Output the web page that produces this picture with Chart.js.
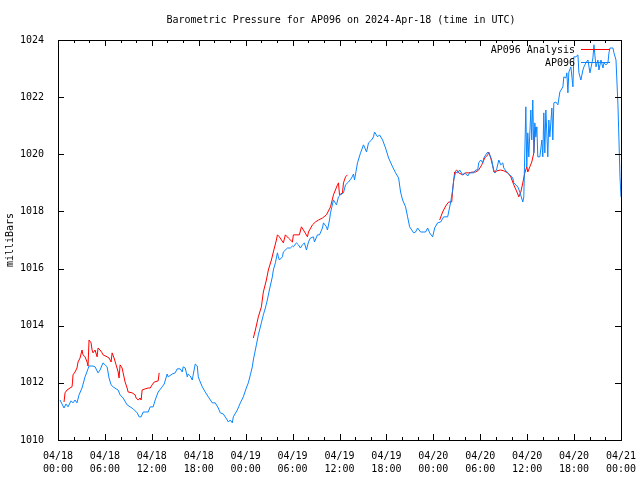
<!DOCTYPE html>
<html>
<head>
<meta charset="utf-8">
<script src="https://cdn.jsdelivr.net/npm/chart.js@4"></script>
<style>
html,body{margin:0;padding:0;background:#fff;}
canvas{display:block;}
</style>
</head>
<body>
<canvas id="c" width="640" height="480"></canvas>
<script>
// Hours since 2024-04-18 00:00 UTC
const blueTimes = [0.26,0.77,1.02,1.28,1.67,1.92,2.18,2.43,2.69,3.07,3.46,3.84,3.97,4.48,4.74,5.12,5.38,5.76,6.02,6.28,6.53,6.79,7.05,7.43,7.69,7.94,8.33,8.84,9.22,9.61,10.12,10.38,10.63,10.89,11.53,11.79,12.17,12.43,12.81,13.32,13.58,13.96,14.09,14.60,14.99,15.24,15.63,15.89,16.01,16.27,16.53,16.65,16.91,17.17,17.29,17.55,17.81,17.94,18.19,18.45,18.83,19.22,19.73,20.11,20.50,20.75,21.14,21.65,21.78,22.03,22.29,22.42,22.93,23.32,23.70,24.08,24.34,24.60,24.85,24.98,25.37,25.62,26.01,26.26,26.52,26.77,27.03,27.41,27.54,27.80,28.06,28.18,28.31,28.70,28.82,29.34,29.72,29.98,30.10,30.49,30.75,31.00,31.26,31.51,31.77,32.03,32.28,32.67,32.80,33.18,33.44,33.82,33.95,34.33,34.46,34.72,34.85,35.23,35.61,35.87,36.13,36.51,36.77,37.15,37.54,37.79,37.92,38.30,38.69,39.07,39.46,39.71,40.10,40.35,40.48,40.87,41.12,41.51,41.89,42.28,42.79,43.17,43.56,43.81,44.07,44.45,44.71,44.97,45.48,45.73,45.99,46.37,47.01,47.27,47.53,47.91,48.17,48.55,48.94,49.32,49.83,49.96,50.22,50.47,50.60,50.86,51.11,51.37,51.76,52.01,52.40,52.65,53.17,53.42,53.68,53.80,54.06,54.32,54.45,54.70,54.96,55.22,55.47,55.73,55.86,56.11,56.37,56.62,56.88,57.01,57.39,57.78,58.16,58.29,58.80,59.06,59.44,59.57,59.83,59.95,60.08,60.21,60.47,60.59,60.72,60.85,60.98,61.11,61.24,61.36,61.62,61.88,62.00,62.13,62.26,62.39,62.64,62.77,62.90,63.16,63.28,63.41,63.67,63.93,64.18,64.57,64.69,64.95,65.08,65.21,65.33,65.59,65.85,65.97,66.23,66.49,66.62,66.87,67.13,67.26,67.51,67.77,68.03,68.41,68.54,68.80,69.05,69.18,69.44,69.69,69.82,70.07,70.33,70.46,70.59,70.97,71.10,71.36,71.61,71.74,71.87,72.00];
const blueValues = [1011.40,1011.12,1011.26,1011.16,1011.37,1011.30,1011.40,1011.30,1011.58,1011.82,1012.21,1012.49,1012.59,1012.59,1012.56,1012.35,1012.45,1012.70,1012.63,1012.56,1012.17,1011.93,1011.86,1011.79,1011.75,1011.58,1011.47,1011.23,1011.16,1011.09,1010.95,1010.81,1010.81,1010.98,1010.98,1011.16,1011.16,1011.40,1011.68,1011.86,1011.96,1012.31,1012.21,1012.31,1012.35,1012.49,1012.49,1012.38,1012.56,1012.52,1012.21,1012.31,1012.24,1012.10,1012.28,1012.66,1012.59,1012.21,1012.03,1011.86,1011.68,1011.51,1011.30,1011.30,1011.12,1010.95,1010.91,1010.70,1010.63,1010.70,1010.60,1010.81,1011.05,1011.30,1011.51,1011.82,1012.00,1012.28,1012.56,1012.80,1013.33,1013.68,1014.10,1014.38,1014.62,1014.90,1015.25,1015.71,1015.95,1016.20,1016.55,1016.41,1016.30,1016.41,1016.58,1016.72,1016.72,1016.79,1016.76,1016.90,1016.83,1016.72,1016.83,1016.90,1016.65,1016.93,1017.07,1017.11,1016.93,1017.18,1017.18,1017.42,1017.60,1017.46,1017.35,1017.70,1017.95,1018.40,1018.23,1018.51,1018.58,1018.65,1018.93,1019.03,1019.17,1019.31,1019.10,1019.70,1020.05,1020.33,1020.08,1020.40,1020.50,1020.61,1020.78,1020.61,1020.68,1020.50,1020.22,1019.87,1019.56,1019.35,1019.17,1018.68,1018.40,1018.16,1017.81,1017.46,1017.25,1017.28,1017.42,1017.28,1017.28,1017.42,1017.25,1017.11,1017.42,1017.60,1017.63,1017.81,1017.81,1017.98,1018.33,1018.75,1019.10,1019.38,1019.35,1019.45,1019.28,1019.35,1019.24,1019.35,1019.35,1019.45,1019.45,1019.70,1019.80,1019.70,1019.87,1019.98,1020.08,1019.98,1019.80,1019.38,1019.35,1019.49,1019.80,1019.63,1019.70,1019.52,1019.38,1019.28,1019.17,1019.00,1018.86,1018.68,1018.33,1018.51,1021.66,1019.56,1020.75,1019.91,1021.55,1020.50,1021.90,1020.05,1021.10,1020.61,1020.96,1019.91,1019.91,1020.50,1019.91,1021.45,1020.05,1021.55,1019.91,1021.20,1020.61,1021.62,1020.50,1021.80,1021.83,1021.73,1022.18,1022.36,1022.71,1022.67,1022.85,1022.15,1022.88,1023.06,1022.36,1023.41,1023.41,1023.48,1022.85,1022.60,1022.95,1023.06,1023.20,1023.30,1022.85,1023.37,1023.83,1023.06,1023.30,1022.95,1023.30,1023.02,1023.20,1023.13,1023.20,1023.55,1023.72,1023.72,1023.55,1023.30,1021.73,1020.50,1019.21,1018.51];

const redTimes = [0.77,0.90,1.15,1.54,1.79,1.85,1.92,2.18,2.43,2.56,2.82,3.07,3.20,3.46,3.72,3.84,3.97,4.23,4.36,4.48,4.74,5.00,5.12,5.38,5.64,5.76,6.28,6.53,6.79,6.92,7.17,7.43,7.69,7.81,7.94,8.20,8.33,8.58,8.84,8.97,9.48,9.86,9.99,10.25,10.50,10.63,10.76,11.15,11.53,11.79,12.04,12.30,12.81,12.94,
  18.00,
  24.98,25.24,25.62,26.01,26.26,26.65,26.90,27.29,27.54,27.93,28.06,28.31,28.82,29.08,29.46,29.98,30.10,30.87,31.13,31.39,31.90,32.03,32.54,32.92,33.31,33.82,34.33,34.85,35.23,35.74,35.87,36.00,36.38,36.51,36.77,37.02,
  43.00,
  48.81,49.19,49.58,49.96,50.35,50.47,50.73,50.99,51.24,51.76,52.14,52.52,53.04,53.42,53.80,54.19,54.57,54.96,55.09,55.34,55.73,55.86,56.11,56.62,57.01,57.52,57.91,58.29,58.80,58.93,59.19,59.44,59.70,59.95,60.08,60.34,60.59,60.85,60.98,61.11];
const redValues = [1011.33,1011.65,1011.75,1011.82,1011.86,1012.00,1012.28,1012.38,1012.52,1012.73,1012.87,1013.15,1012.98,1012.91,1012.73,1012.59,1013.50,1013.40,1013.15,1013.05,1013.15,1012.91,1013.22,1013.15,1013.05,1012.98,1012.91,1012.87,1012.73,1013.05,1012.87,1012.63,1012.38,1012.17,1012.63,1012.52,1012.35,1012.03,1011.82,1011.68,1011.65,1011.58,1011.47,1011.40,1011.47,1011.40,1011.75,1011.79,1011.82,1011.82,1011.93,1012.03,1012.07,1012.35,
  null,
  1013.57,1013.85,1014.31,1014.66,1015.18,1015.60,1015.95,1016.30,1016.58,1017.00,1017.18,1017.11,1016.90,1017.18,1017.07,1016.93,1017.18,1017.18,1017.46,1017.35,1017.11,1017.28,1017.53,1017.63,1017.70,1017.77,1017.88,1018.16,1018.58,1018.93,1019.00,1018.58,1018.65,1019.00,1019.21,1019.28,
  null,
  1017.70,1017.98,1018.19,1018.33,1018.33,1018.75,1019.38,1019.45,1019.35,1019.28,1019.35,1019.35,1019.38,1019.38,1019.45,1019.63,1019.87,1019.98,1020.08,1019.87,1019.45,1019.35,1019.42,1019.45,1019.42,1019.35,1019.21,1018.93,1018.61,1018.51,1018.68,1019.00,1019.35,1019.56,1019.38,1019.56,1019.73,1020.05,1020.68,1020.96];

const xTickLabels = [["04/18","00:00"],["04/18","06:00"],["04/18","12:00"],["04/18","18:00"],["04/19","00:00"],["04/19","06:00"],["04/19","12:00"],["04/19","18:00"],["04/20","00:00"],["04/20","06:00"],["04/20","12:00"],["04/20","18:00"],["04/21","00:00"]];
const yTickLabels = ["1010","1012","1014","1016","1018","1020","1022","1024"];
const chartTitle = "Barometric Pressure for AP096 on 2024-Apr-18 (time in UTC)";
const yAxisTitle = "milliBars";
const seriesNames = ["AP096 Analysis","AP096"];

const FONT = "DejaVu Sans Mono";
const RED = "#ff0000";
const BLUE = "#0a85ff";

const toPts = (ts, vs) => ts.map((t,i)=>({x:t, y:vs[i]}));

const framePlugin = {
  id: 'frame',
  afterDatasetsDraw(chart) {
    const {ctx, chartArea:a, scales} = chart;
    const xs = scales.x, ys = scales.y;
    ctx.save();
    ctx.strokeStyle = '#000';
    ctx.lineWidth = 1;
    ctx.beginPath();
    for (let h = 0; h <= 72; h += 2) {
      const px = Math.round(xs.getPixelForValue(h)) + 0.5;
      const len = (h % 6 === 0) ? 6 : 3;
      ctx.moveTo(px, a.bottom); ctx.lineTo(px, a.bottom - len);
      ctx.moveTo(px, a.top); ctx.lineTo(px, a.top + len);
    }
    for (let v = 1010; v <= 1024; v += 2) {
      const py = Math.round(ys.getPixelForValue(v)) + 0.5;
      ctx.moveTo(a.left, py); ctx.lineTo(a.left + 6, py);
      ctx.moveTo(a.right, py); ctx.lineTo(a.right - 6, py);
    }
    ctx.stroke();
    ctx.strokeRect(Math.round(a.left)+0.5, Math.round(a.top)+0.5, Math.round(a.right-a.left), Math.round(a.bottom-a.top));

    ctx.fillStyle = '#000';
    ctx.font = '10px "' + FONT + '"';
    ctx.textAlign = 'center';
    ctx.textBaseline = 'middle';
    ctx.fillText(chartTitle, 341, 20);

    ctx.textAlign = 'right';
    ctx.fillText(seriesNames[0], 575, 50);
    ctx.fillText(seriesNames[1], 575, 63);
    ctx.lineWidth = 1;
    ctx.strokeStyle = RED;
    ctx.beginPath(); ctx.moveTo(581, 49.5); ctx.lineTo(610, 49.5); ctx.stroke();
    ctx.strokeStyle = BLUE;
    ctx.beginPath(); ctx.moveTo(581, 62.5); ctx.lineTo(610, 62.5); ctx.stroke();
    ctx.restore();
  }
};

new Chart(document.getElementById('c'), {
  type: 'line',
  data: {
    datasets: [
      { label: seriesNames[1], data: toPts(blueTimes, blueValues), borderColor: BLUE, borderWidth: 1, pointRadius: 0, tension: 0, spanGaps: false, order: 0 },
      { label: seriesNames[0], data: toPts(redTimes, redValues), borderColor: RED, borderWidth: 1, pointRadius: 0, tension: 0, spanGaps: false, order: 1 }
    ]
  },
  options: {
    responsive: false,
    animation: false,
    devicePixelRatio: 1,
    layout: { padding: { top: 40, right: 19, left: 0, bottom: 0 } },
    plugins: { legend: { display: false }, tooltip: { enabled: false }, title: { display: false } },
    scales: {
      x: {
        type: 'linear', min: 0, max: 72,
        grid: { display: false }, border: { display: false },
        ticks: {
          stepSize: 6, autoSkip: false, maxRotation: 0, minRotation: 0,
          color: '#000', padding: 2,
          font: { family: FONT, size: 10, lineHeight: 1.3 },
          callback: v => xTickLabels[Math.round(v / 6)]
        },
        afterFit: s => { s.height = 40; s.paddingRight = 0; s.paddingLeft = 0; }
      },
      y: {
        type: 'linear', min: 1010, max: 1024,
        grid: { display: false }, border: { display: false },
        ticks: {
          stepSize: 2, color: '#000', padding: 6,
          font: { family: FONT, size: 10 },
          callback: v => yTickLabels[Math.round((v - 1010) / 2)]
        },
        title: { display: true, text: yAxisTitle, color: '#000', padding: 4, font: { family: FONT, size: 10, lineHeight: 1.2 } },
        afterFit: s => { s.width = 58; s.paddingTop = 0; s.paddingBottom = 0; }
      }
    }
  },
  plugins: [framePlugin]
});
</script>
</body>
</html>
